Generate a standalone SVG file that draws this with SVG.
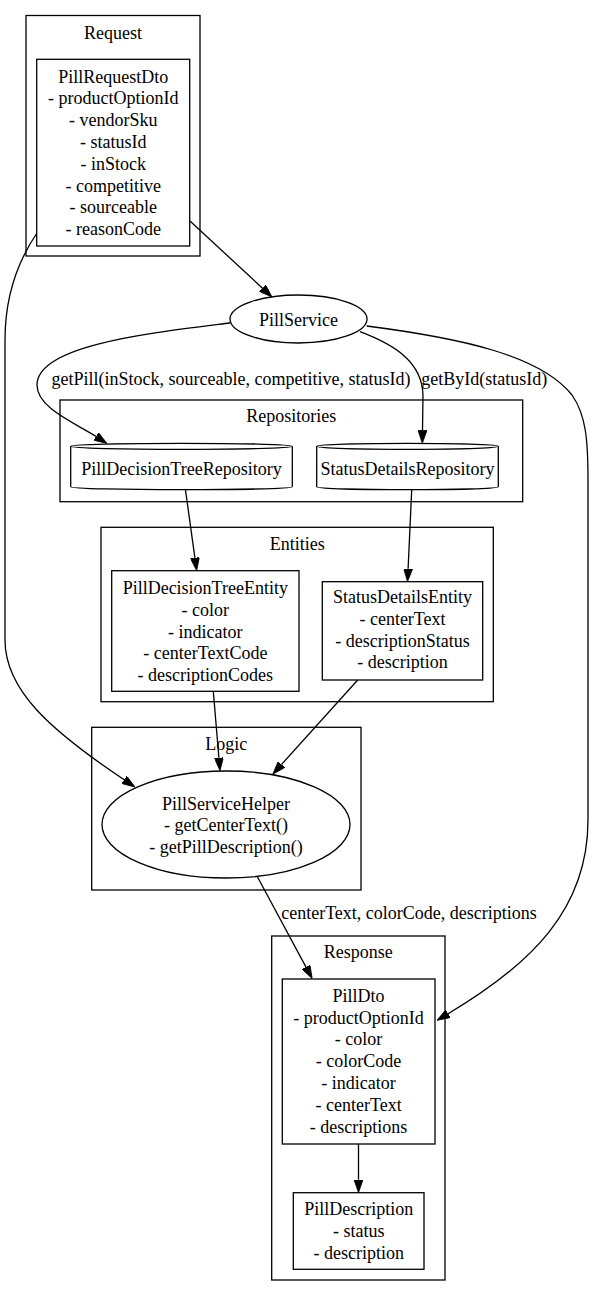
<svg xmlns="http://www.w3.org/2000/svg" width="595" height="1296" viewBox="0 0 595 1296">
  <style>
    text { font-family: "Liberation Serif", "Times New Roman", serif; font-size: 18px; fill: #000; text-anchor: middle; }
    .cluster { fill: none; stroke: #000; stroke-width: 1.3; }
    .node { fill: #fff; stroke: #000; stroke-width: 1.3; }
    .edge { fill: none; stroke: #000; stroke-width: 1.3; marker-end: url(#arrow); }
  </style>
  <defs>
    <marker id="arrow" markerUnits="userSpaceOnUse" viewBox="0 0 13 9" refX="0" refY="4.5" markerWidth="13" markerHeight="9" orient="auto">
      <path d="M0,0 L13,4.5 L0,9 Z" fill="#000" stroke="#000" stroke-width="0.8"/>
    </marker>
  </defs>
  <rect width="595" height="1296" fill="#fff"/>

  <!-- clusters -->
  <g id="cluster_request">
    <rect class="cluster" x="26" y="15.5" width="174" height="240.5"/>
    <text x="113" y="38.5">Request</text>
  </g>
  <g id="cluster_repositories">
    <rect class="cluster" x="60" y="400" width="462.7" height="101.7"/>
    <text x="291.3" y="421.7">Repositories</text>
  </g>
  <g id="cluster_entities">
    <rect class="cluster" x="101" y="527.3" width="392.3" height="174.4"/>
    <text x="297.2" y="550">Entities</text>
  </g>
  <g id="cluster_logic">
    <rect class="cluster" x="91.7" y="727.3" width="269.3" height="162.7"/>
    <text x="226.3" y="750">Logic</text>
  </g>
  <g id="cluster_response">
    <rect class="cluster" x="271.7" y="936" width="173.3" height="344"/>
    <text x="358.3" y="957.7">Response</text>
  </g>

  <!-- connectors -->
  <g id="edges">
    <path class="edge" d="M190,221 L262.5,288.2"/>
    <path class="edge" d="M230,323 C150,333 37,345 37,385 C37,408 75,423 96,436.4"/>
    <text x="231" y="385">getPill(inStock, sourceable, competitive, statusId)</text>
    <path class="edge" d="M360,331.7 C395,345 422,362 423,395 L422.5,430.3"/>
    <text x="484.2" y="385">getById(statusId)</text>
    <path class="edge" d="M366.7,326 C460,338 540,355 572,395 C586,415 588,440 588,480 L588,820 C588,910 530,965 448.1,1013.7"/>
    <path class="edge" d="M37,233 C22,255 5,290 5,340 L5,640 C5,690 50,730 124.2,779.8"/>
    <path class="edge" d="M185.5,490 L194.9,557.8"/>
    <path class="edge" d="M411.7,490 L408.1,568.7"/>
    <path class="edge" d="M213.3,691.3 L218.9,757.8"/>
    <path class="edge" d="M357.7,680 L281.5,764.5"/>
    <path class="edge" d="M257,876 L306,967.1"/>
    <text x="409" y="919">centerText, colorCode, descriptions</text>
    <path class="edge" d="M358.5,1144 L358.5,1179.7"/>
  </g>

  <!-- nodes -->
  <g id="PillRequestDto">
    <rect class="node" x="36.7" y="59.3" width="153" height="186.7"/>
    <text x="113.2" y="82.5">PillRequestDto</text>
    <text x="113.2" y="104.3">- productOptionId</text>
    <text x="113.2" y="126.1">- vendorSku</text>
    <text x="113.2" y="147.9">- statusId</text>
    <text x="113.2" y="169.7">- inStock</text>
    <text x="113.2" y="191.5">- competitive</text>
    <text x="113.2" y="213.3">- sourceable</text>
    <text x="113.2" y="235.1">- reasonCode</text>
  </g>
  <g id="PillService">
    <ellipse class="node" cx="298.5" cy="319" rx="68.5" ry="24"/>
    <text x="298.5" y="325.5">PillService</text>
  </g>
  <g id="PillDecisionTreeRepository">
    <path class="node" d="M70.7,446.3 C70.7,442.3 292.3,442.3 292.3,446.3 L292.3,486.7 C292.3,490.7 70.7,490.7 70.7,486.7 Z"/>
    <path class="node" fill="none" d="M292.3,446.3 C292.3,450.3 70.7,450.3 70.7,446.3"/>
    <text x="181.5" y="475">PillDecisionTreeRepository</text>
  </g>
  <g id="StatusDetailsRepository">
    <path class="node" d="M316.7,446.3 C316.7,442.3 498.3,442.3 498.3,446.3 L498.3,486.7 C498.3,490.7 316.7,490.7 316.7,486.7 Z"/>
    <path class="node" fill="none" d="M498.3,446.3 C498.3,450.3 316.7,450.3 316.7,446.3"/>
    <text x="407.5" y="475">StatusDetailsRepository</text>
  </g>
  <g id="PillDecisionTreeEntity">
    <rect class="node" x="111.7" y="570.7" width="187.3" height="120.6"/>
    <text x="205.3" y="594.3">PillDecisionTreeEntity</text>
    <text x="205.3" y="616">- color</text>
    <text x="205.3" y="637.7">- indicator</text>
    <text x="205.3" y="659.4">- centerTextCode</text>
    <text x="205.3" y="681.1">- descriptionCodes</text>
  </g>
  <g id="StatusDetailsEntity">
    <rect class="node" x="322.3" y="581.7" width="160.4" height="98.3"/>
    <text x="402.5" y="603.3">StatusDetailsEntity</text>
    <text x="402.5" y="625">- centerText</text>
    <text x="402.5" y="646.7">- descriptionStatus</text>
    <text x="402.5" y="668.4">- description</text>
  </g>
  <g id="PillServiceHelper">
    <ellipse class="node" cx="226" cy="824.5" rx="124" ry="53.5"/>
    <text x="226" y="809.5">PillServiceHelper</text>
    <text x="226" y="831.2">- getCenterText()</text>
    <text x="226" y="852.9">- getPillDescription()</text>
  </g>
  <g id="PillDto">
    <rect class="node" x="282.3" y="979" width="152.7" height="165"/>
    <text x="358.6" y="1001.7">PillDto</text>
    <text x="358.6" y="1023.5">- productOptionId</text>
    <text x="358.6" y="1045.3">- color</text>
    <text x="358.6" y="1067.1">- colorCode</text>
    <text x="358.6" y="1088.9">- indicator</text>
    <text x="358.6" y="1110.7">- centerText</text>
    <text x="358.6" y="1132.5">- descriptions</text>
  </g>
  <g id="PillDescription">
    <rect class="node" x="293.3" y="1192.7" width="130.7" height="76.6"/>
    <text x="358.7" y="1215">PillDescription</text>
    <text x="358.7" y="1236.8">- status</text>
    <text x="358.7" y="1258.6">- description</text>
  </g>
</svg>
